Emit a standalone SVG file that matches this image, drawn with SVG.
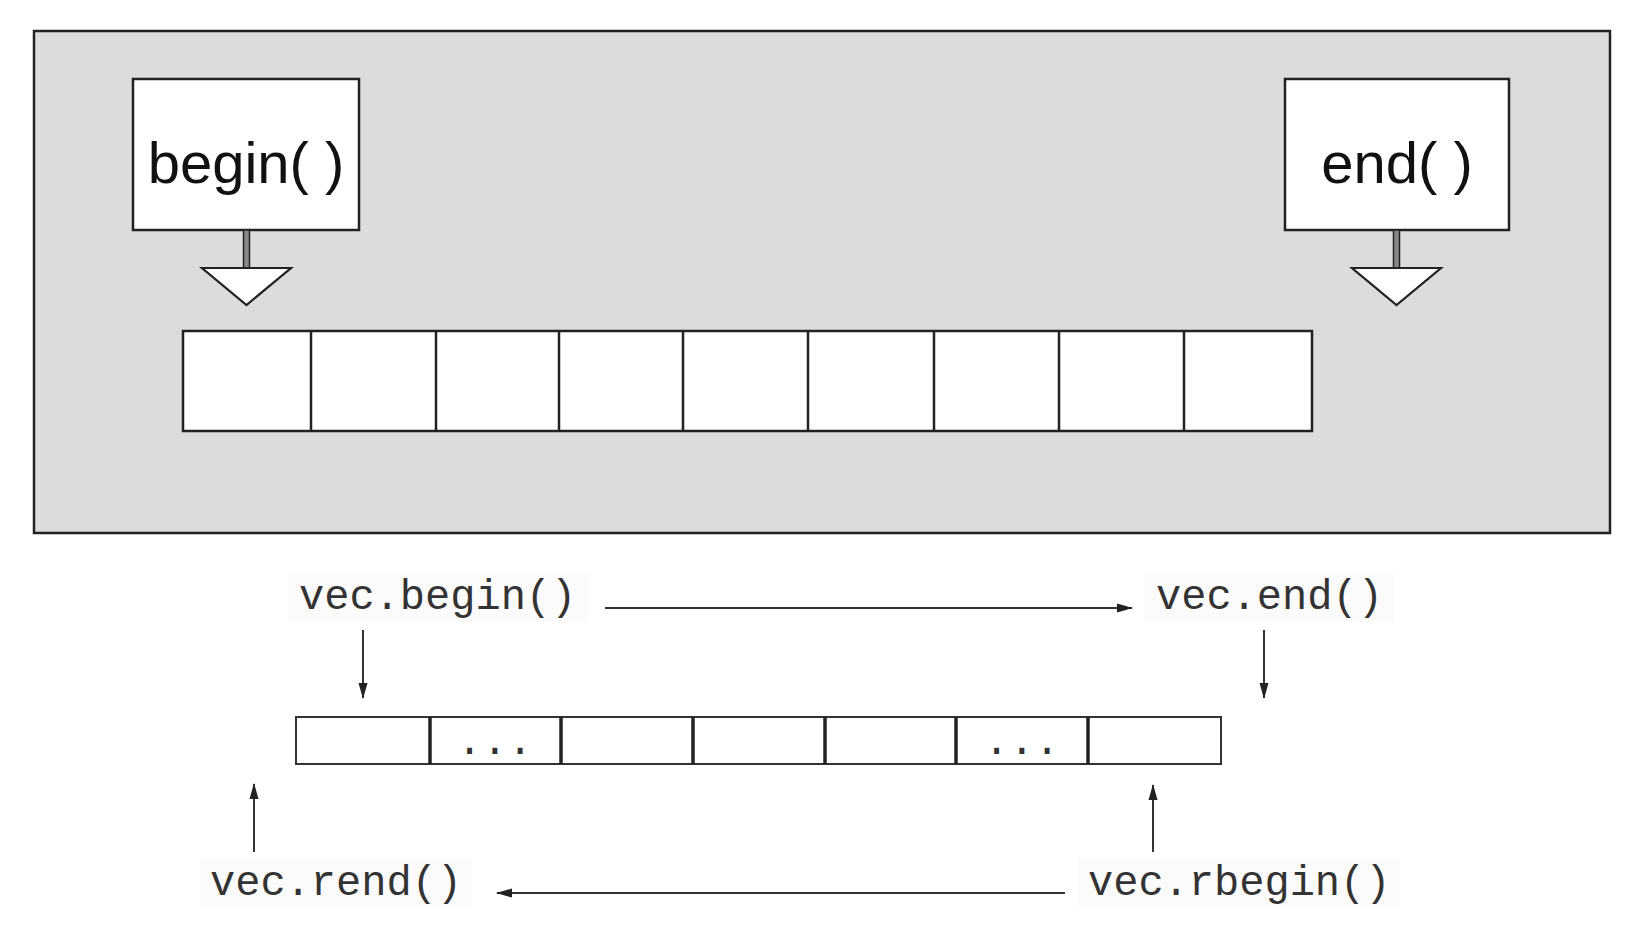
<svg xmlns="http://www.w3.org/2000/svg" width="1631" height="932" viewBox="0 0 1631 932">
<defs>
<style>
.frame{fill:#dcdcdc;stroke:#222;stroke-width:2.5}
.box{fill:#fff;stroke:#222;stroke-width:2.5}
.stem{fill:#888;stroke:#222;stroke-width:1.5}
.tri{fill:#fff;stroke:#222;stroke-width:2.2;stroke-linejoin:miter}
.cell{fill:#fff;stroke:#222;stroke-width:2.5}
.vcell{fill:#fff;stroke:#333;stroke-width:2}
.div{stroke:#222;stroke-width:3.5}
.big{font-family:"Liberation Sans",Arial,sans-serif;font-size:58px;fill:#111;text-anchor:middle}
.mono{font-family:"Liberation Mono","Courier New",monospace;font-size:42px;fill:#333}
.lbg{fill:#fbfbfb}
.conn{stroke:#333;stroke-width:2;fill:none;marker-end:url(#ah)}
</style>
<marker id="ah" markerUnits="userSpaceOnUse" markerWidth="16" markerHeight="10" refX="15" refY="5" orient="auto">
<path d="M0,0.5 L16,5 L0,9.5 Z" fill="#222"/>
</marker>
</defs>
<rect width="1631" height="932" fill="#fff"/>
<g id="frame">
<rect class="frame" x="34" y="31" width="1576" height="502"/>
</g>
<g id="begin-pointer">
<rect class="box" x="133" y="79" width="226" height="151"/>
<text class="big" x="246" y="183">begin( )</text>
<rect class="stem" x="243.5" y="230" width="6" height="38"/>
<polygon class="tri" points="202,268 291,268 246.5,305"/>
</g>
<g id="end-pointer">
<rect class="box" x="1285" y="79" width="224" height="151"/>
<text class="big" x="1397" y="183">end( )</text>
<rect class="stem" x="1393.5" y="230" width="6" height="38"/>
<polygon class="tri" points="1352,268 1441,268 1396.5,305"/>
</g>
<g id="container-cells">
<rect class="cell" x="183" y="331" width="1129" height="100"/>
<line class="cell" x1="311" y1="331" x2="311" y2="431"/>
<line class="cell" x1="436" y1="331" x2="436" y2="431"/>
<line class="cell" x1="559" y1="331" x2="559" y2="431"/>
<line class="cell" x1="683" y1="331" x2="683" y2="431"/>
<line class="cell" x1="808" y1="331" x2="808" y2="431"/>
<line class="cell" x1="934" y1="331" x2="934" y2="431"/>
<line class="cell" x1="1059" y1="331" x2="1059" y2="431"/>
<line class="cell" x1="1184" y1="331" x2="1184" y2="431"/>
</g>
<g id="vec-begin">
<rect class="lbg" x="288" y="572" width="300" height="50"/>
<text class="mono" x="299" y="609">vec.begin()</text>
</g>
<g id="vec-end">
<rect class="lbg" x="1144" y="572" width="250" height="50"/>
<text class="mono" x="1156" y="609">vec.end()</text>
</g>
<g id="vec-rend">
<rect class="lbg" x="200" y="858" width="272" height="50"/>
<text class="mono" x="210" y="895">vec.rend()</text>
</g>
<g id="vec-rbegin">
<rect class="lbg" x="1078" y="858" width="322" height="50"/>
<text class="mono" x="1088" y="895">vec.rbegin()</text>
</g>
<g id="vector-cells">
<rect class="vcell" x="296" y="717" width="925" height="47"/>
<line class="div" x1="430" y1="717" x2="430" y2="764"/>
<line class="div" x1="561" y1="717" x2="561" y2="764"/>
<line class="div" x1="693" y1="717" x2="693" y2="764"/>
<line class="div" x1="825" y1="717" x2="825" y2="764"/>
<line class="div" x1="956" y1="717" x2="956" y2="764"/>
<line class="div" x1="1088" y1="717" x2="1088" y2="764"/>
<text class="mono" x="457" y="754">...</text>
<text class="mono" x="984" y="754">...</text>
</g>
<g id="connectors">
<line class="conn" x1="605" y1="608" x2="1132" y2="608"/>
<line class="conn" x1="363" y1="630" x2="363" y2="698"/>
<line class="conn" x1="1264" y1="630" x2="1264" y2="698"/>
<line class="conn" x1="254" y1="852" x2="254" y2="784"/>
<line class="conn" x1="1153" y1="852" x2="1153" y2="785"/>
<line class="conn" x1="1065" y1="893" x2="497" y2="893"/>
</g>
</svg>
